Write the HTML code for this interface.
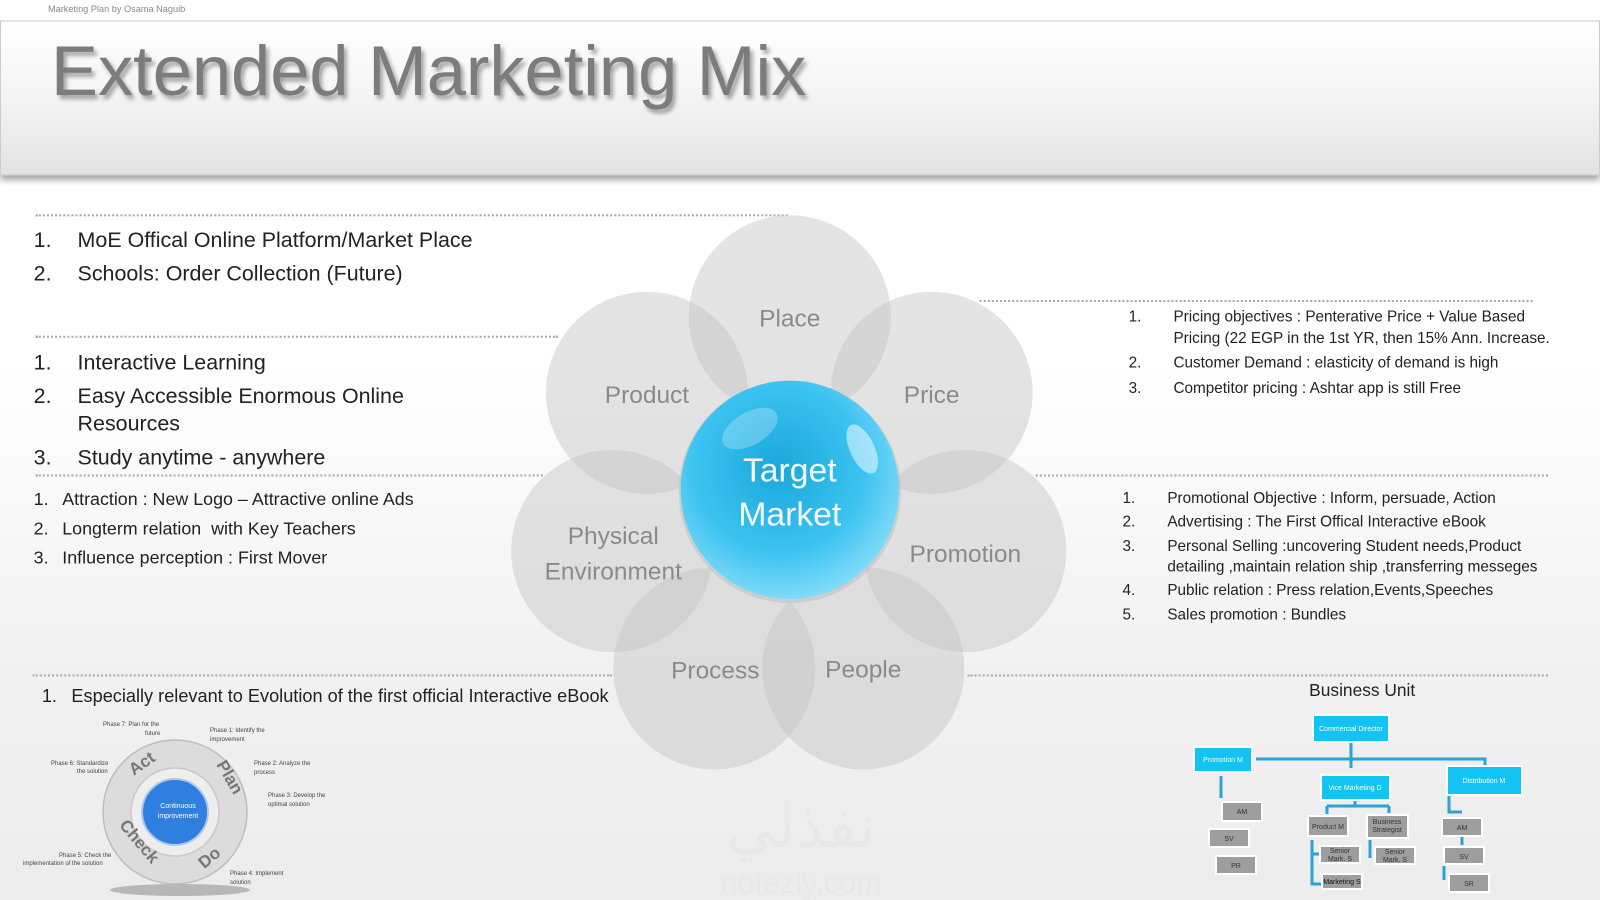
<!DOCTYPE html>
<html><head><meta charset="utf-8"><style>
*{margin:0;padding:0;box-sizing:border-box}
body{width:1600px;height:900px;overflow:hidden;position:relative;font-family:"Liberation Sans",sans-serif;background:linear-gradient(#fff 0%,#fff 40%,#f1f1f1 75%,#ececec 100%)}
#st{position:absolute;left:0;top:0;width:1568px;height:882px;transform:scale(1.0204);transform-origin:0 0}
.t{position:absolute;white-space:nowrap;color:#222;letter-spacing:0}
.d{position:absolute;border-top:2px dotted #aaa;height:0}
</style></head><body>
<div id="st">
<div class="t" style="left:47px;top:4px;font-size:9px;color:#888">Marketing Plan by Osama Naguib</div>
<div style="position:absolute;left:0;top:20px;width:1568px;height:152px;background:linear-gradient(#fff 0%,#f4f4f4 50%,#e2e2e2 100%);border:1px solid #ccc;box-shadow:0 5px 6px rgba(0,0,0,0.35)"></div>
<div class="t" style="left:50px;top:30px;font-size:69px;color:#7c7c7c;letter-spacing:0px;text-shadow:3px 4px 4px rgba(0,0,0,0.35)">Extended Marketing Mix</div>

<div class="d" style="left:35px;top:210px;width:737px"></div>
<div class="d" style="left:35px;top:329px;width:512px"></div>
<div class="d" style="left:35px;top:465px;width:497px"></div>
<div class="d" style="left:1015px;top:465px;width:502px"></div>
<div class="d" style="left:960px;top:294px;width:542px"></div>
<div class="d" style="left:32px;top:661px;width:568px"></div>
<div class="d" style="left:948px;top:661px;width:569px"></div>

<div class="t" style="left:33px;top:224px;font-size:21px">1.</div><div class="t" style="left:76px;top:224px;font-size:21px">MoE Offical Online Platform/Market Place</div>
<div class="t" style="left:33px;top:257px;font-size:21px">2.</div><div class="t" style="left:76px;top:257px;font-size:21px">Schools: Order Collection (Future)</div>
<div class="t" style="left:33px;top:344px;font-size:21px">1.</div><div class="t" style="left:76px;top:344px;font-size:21px">Interactive Learning</div>
<div class="t" style="left:33px;top:377px;font-size:21px">2.</div><div class="t" style="left:76px;top:377px;font-size:21px">Easy Accessible Enormous Online</div>
<div class="t" style="left:76px;top:404px;font-size:21px">Resources</div>
<div class="t" style="left:33px;top:437px;font-size:21px">3.</div><div class="t" style="left:76px;top:437px;font-size:21px">Study anytime - anywhere</div>
<div class="t" style="left:33px;top:479px;font-size:17.5px">1.</div><div class="t" style="left:61px;top:479px;font-size:17.5px">Attraction : New Logo – Attractive online Ads</div>
<div class="t" style="left:33px;top:508px;font-size:17.5px">2.</div><div class="t" style="left:61px;top:508px;font-size:17.5px">Longterm relation&nbsp; with Key Teachers</div>
<div class="t" style="left:33px;top:536px;font-size:17.5px">3.</div><div class="t" style="left:61px;top:536px;font-size:17.5px">Influence perception : First Mover</div>
<div class="t" style="left:41px;top:672px;font-size:17.8px">1.</div><div class="t" style="left:70px;top:672px;font-size:17.8px">Especially relevant to Evolution of the first official Interactive eBook</div>

<div class="t" style="left:1106px;top:302px;font-size:15px">1.</div><div class="t" style="left:1150px;top:302px;font-size:15px">Pricing objectives : Penterative Price + Value Based</div>
<div class="t" style="left:1150px;top:323px;font-size:15px">Pricing (22 EGP in the 1st YR, then 15% Ann. Increase.</div>
<div class="t" style="left:1106px;top:347px;font-size:15px">2.</div><div class="t" style="left:1150px;top:347px;font-size:15px">Customer Demand : elasticity of demand is high</div>
<div class="t" style="left:1106px;top:372px;font-size:15px">3.</div><div class="t" style="left:1150px;top:372px;font-size:15px">Competitor pricing : Ashtar app is still Free</div>

<div class="t" style="left:1100px;top:480px;font-size:15px">1.</div><div class="t" style="left:1144px;top:480px;font-size:15px">Promotional Objective : Inform, persuade, Action</div>
<div class="t" style="left:1100px;top:503px;font-size:15px">2.</div><div class="t" style="left:1144px;top:503px;font-size:15px">Advertising : The First Offical Interactive eBook</div>
<div class="t" style="left:1100px;top:527px;font-size:15px">3.</div><div class="t" style="left:1144px;top:527px;font-size:15px">Personal Selling :uncovering Student needs,Product</div>
<div class="t" style="left:1144px;top:547px;font-size:15px">detailing ,maintain relation ship ,transferring messeges</div>
<div class="t" style="left:1100px;top:570px;font-size:15px">4.</div><div class="t" style="left:1144px;top:570px;font-size:15px">Public relation : Press relation,Events,Speeches</div>
<div class="t" style="left:1100px;top:594px;font-size:15px">5.</div><div class="t" style="left:1144px;top:594px;font-size:15px">Sales promotion : Bundles</div>

<div class="t" style="left:1283px;top:667px;font-size:17px">Business Unit</div>

<svg style="position:absolute;left:0;top:0" width="1568" height="882">
<defs>
<radialGradient id="sp" cx="0.45" cy="0.4" r="0.65">
<stop offset="0" stop-color="#1aa7dc"/><stop offset="0.6" stop-color="#3cc3f0"/><stop offset="1" stop-color="#8fe0fb"/></radialGradient>
</defs>
<g fill="#c4c4c4" fill-opacity="0.45">
<circle cx="774" cy="310" r="99"/><circle cx="634" cy="385" r="99"/><circle cx="913" cy="385" r="99"/>
<circle cx="600" cy="540" r="99"/><circle cx="946" cy="540" r="99"/><circle cx="700" cy="655" r="99"/><circle cx="846" cy="655" r="99"/>
</g>
<circle cx="774" cy="482" r="109" fill="#bbb" opacity="0.5"/>
<circle cx="774" cy="480" r="107" fill="url(#sp)"/>
<ellipse cx="735" cy="420" rx="30" ry="16" fill="#fff" opacity="0.25" transform="rotate(-30 735 420)"/>
<ellipse cx="845" cy="440" rx="12" ry="26" fill="#fff" opacity="0.5" transform="rotate(-25 845 440)"/>
<g font-family="Liberation Sans,sans-serif" fill="#8a8a8a" font-size="24" text-anchor="middle">
<text x="774" y="320">Place</text><text x="634" y="395">Product</text><text x="913" y="395">Price</text>
<text x="601" y="533">Physical</text><text x="601" y="568">Environment</text><text x="946" y="551">Promotion</text>
<text x="701" y="665">Process</text><text x="846" y="664">People</text>
</g>
<g font-family="Liberation Sans,sans-serif" fill="#f4fbff" font-size="33" text-anchor="middle">
<text x="774" y="472">Target</text><text x="774" y="515">Market</text></g>
<text x="785" y="830" font-size="60" fill="#000" opacity="0.02" text-anchor="middle" font-family="DejaVu Sans,sans-serif">نفذلي</text>
<text x="785" y="875" font-size="30" fill="#000" opacity="0.02" text-anchor="middle" font-family="Liberation Sans,sans-serif">nofezly.com</text>
</svg>
</div>

<svg style="position:absolute;left:0;top:0" width="1600" height="900" font-family="Liberation Sans,sans-serif">
<ellipse cx="180" cy="890" rx="70" ry="6" fill="#555" opacity="0.35"/>
<circle cx="175" cy="812" r="58" fill="none" stroke="#dcdcdc" stroke-width="28"/>
<circle cx="175" cy="812" r="72" fill="none" stroke="#bdbdbd" stroke-width="1.5"/>
<circle cx="175" cy="812" r="44" fill="none" stroke="#c9c9c9" stroke-width="1.5"/>
<circle cx="175" cy="812" r="33" fill="#2f7fe0" stroke="#b0c8ea" stroke-width="2"/>
<text x="178" y="808" font-size="7" fill="#fff" text-anchor="middle">Continuous</text>
<text x="178" y="818" font-size="7" fill="#fff" text-anchor="middle">improvement</text>
<g font-size="17" fill="#777" font-weight="bold" text-anchor="middle">
<text x="145" y="768" transform="rotate(-35 145 768)">Act</text>
<text x="225" y="780" transform="rotate(60 225 780)">Plan</text>
<text x="135" y="845" transform="rotate(50 135 845)">Check</text>
<text x="213" y="862" transform="rotate(-40 213 862)">Do</text>
</g>
<g font-size="6" fill="#444">
<text x="103" y="726">Phase 7: Plan for the</text><text x="145" y="735">future</text>
<text x="210" y="732">Phase 1: Identify the</text><text x="210" y="741">improvement</text>
<text x="51" y="765">Phase 6: Standardize</text><text x="77" y="773">the solution</text>
<text x="254" y="765">Phase 2: Analyze the</text><text x="254" y="774">process</text>
<text x="268" y="797">Phase 3: Develop the</text><text x="268" y="806">optimal solution</text>
<text x="59" y="857">Phase 5: Check the</text><text x="23" y="865">implementation of the solution</text>
<text x="230" y="875">Phase 4: Implement</text><text x="230" y="884">solution</text>
</g>
<g stroke="#2ba3d6" stroke-width="3" fill="none">
<path d="M1351 742V768M1256 759H1485V765M1221 776V798M1355 800V806M1327 806H1389M1327 806V814M1389 806V813M1312 840V884H1322M1312 854H1320M1370 840V858M1449 795V812H1462M1462 836V845M1444 866V880"/>
</g>
<g fill="#12c3f4" stroke="#fff" stroke-width="2">
<rect x="1313" y="715" width="76" height="27"/><rect x="1194" y="747" width="58" height="25"/>
<rect x="1321" y="775" width="69" height="25"/><rect x="1447" y="766" width="75" height="29"/>
</g>
<g fill="#9e9e9e" stroke="#fff" stroke-width="2">
<rect x="1222" y="802" width="40" height="19"/><rect x="1209" y="829" width="40" height="18"/><rect x="1216" y="856" width="40" height="18"/>
<rect x="1308" y="816" width="40" height="20"/><rect x="1367" y="815" width="41" height="23"/>
<rect x="1320" y="846" width="40" height="17"/><rect x="1375" y="847" width="40" height="17"/><rect x="1322" y="874" width="40" height="15"/>
<rect x="1442" y="818" width="40" height="18"/><rect x="1444" y="847" width="40" height="17"/><rect x="1449" y="874" width="40" height="18"/>
</g>
<g font-size="7" fill="#fff" text-anchor="middle">
<text x="1351" y="731">Commercial Director</text><text x="1223" y="762">Promotion M</text>
<text x="1355" y="790">Vice Marketing D</text><text x="1484" y="783">Distribution M</text></g>
<g font-size="7" fill="#333" text-anchor="middle">
<text x="1242" y="814">AM</text><text x="1229" y="841">SV</text><text x="1236" y="868">PR</text>
<text x="1328" y="829">Product M</text><text x="1387" y="824">Business</text><text x="1387" y="832">Strategist</text>
<text x="1340" y="853">Senior</text><text x="1340" y="861">Mark. S</text><text x="1395" y="854">Senior</text><text x="1395" y="862">Mark. S</text>
<text x="1342" y="884" fill="#111">Marketing S</text>
<text x="1462" y="830">AM</text><text x="1464" y="859">SV</text><text x="1469" y="886">SR</text></g>
</svg>
</body></html>
